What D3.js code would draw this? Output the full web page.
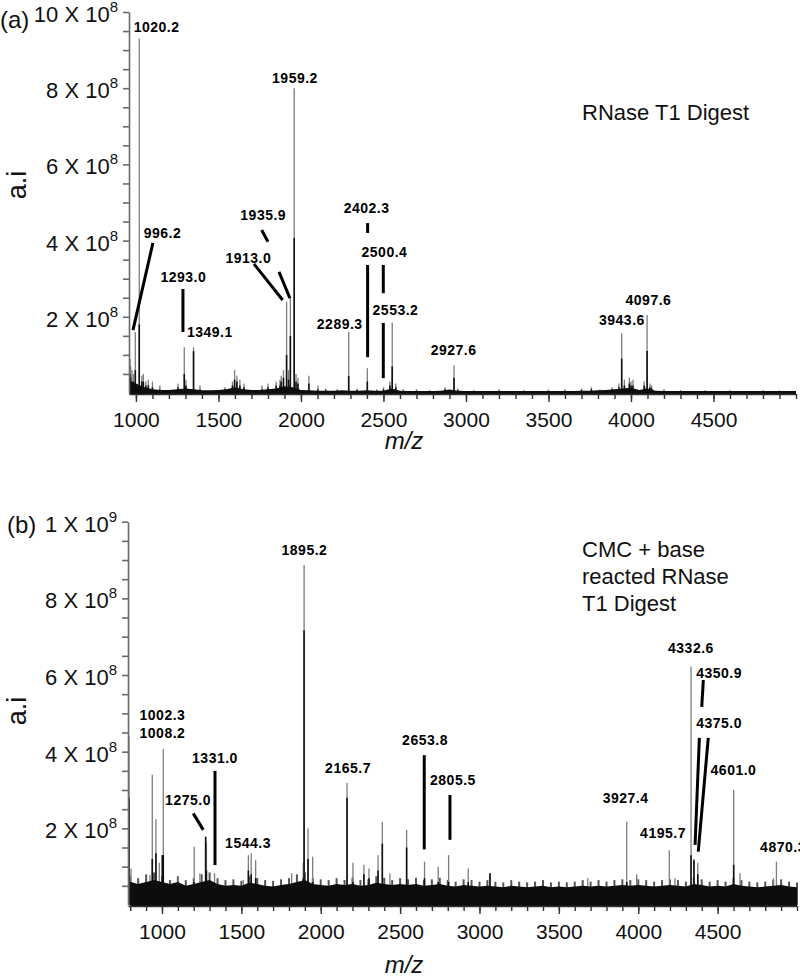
<!DOCTYPE html>
<html><head><meta charset="utf-8">
<script src="https://cdn.jsdelivr.net/npm/d3@7"></script>
<style>body{margin:0;background:#fff}svg{display:block}</style>
</head><body>
<svg id="chart" width="800" height="977"></svg>
<script>
// ---------------- DATA ----------------
const xTickLabels = [1000, 1500, 2000, 2500, 3000, 3500, 4000, 4500];
const yTickValues = [2, 4, 6, 8, 10];                 // units of 1e8
const yTickMantTop = ["2", "4", "6", "8", "10"];
const yTickExpTop = ["8", "8", "8", "8", "8"];
const yTickMantBot = ["2", "4", "6", "8", "1"];
const yTickExpBot = ["8", "8", "8", "8", "9"];

// Panel (a) peaks: m/z, gray (full) height, black (inner) height, units 1e8
const topPeakMz = [964, 968, 976, 985, 996.2, 1020.2, 1036, 1045, 1060, 1075, 1100, 1145, 1255, 1293.0, 1303, 1349.1, 1388, 1540, 1585, 1598, 1612, 1630, 1655, 1764, 1800, 1850, 1873, 1880, 1894, 1913.0, 1925, 1935.9, 1959.2, 1970, 1982, 2048, 2103, 2150, 2220, 2289.3, 2340, 2402.3, 2460, 2500.4, 2539, 2553.2, 2575, 2620, 2700, 2780, 2873, 2927.6, 2950, 3050, 3200, 3350, 3500, 3600, 3700, 3760, 3812, 3885, 3927, 3943.6, 3960, 3990, 4000, 4012, 4080, 4085, 4097.6, 4115, 4125, 4200, 4300, 4450, 4600, 4800, 4900];
const topPeakGray = [0.9, 0.7, 0.6, 0.5, 1.6, 9.3, 0.45, 0.5, 0.3, 0.35, 0.3, 0.2, 0.25, 1.2, 0.35, 1.2, 0.2, 0.15, 0.3, 0.6, 0.45, 0.35, 0.25, 0.2, 0.25, 0.3, 0.35, 0.45, 0.6, 2.4, 0.6, 2.5, 8.0, 0.5, 0.4, 0.45, 0.2, 0.12, 0.1, 1.6, 0.12, 0.65, 0.1, 0.15, 0.3, 1.85, 0.25, 0.1, 0.1, 0.08, 0.15, 0.73, 0.12, 0.08, 0.1, 0.08, 0.09, 0.1, 0.12, 0.15, 0.1, 0.15, 0.25, 1.57, 0.35, 0.4, 0.3, 0.35, 0.3, 0.15, 2.05, 0.25, 0.2, 0.1, 0.08, 0.08, 0.08, 0.08, 0.07];
const topPeakBlack = [0.5, 0.4, 0.3, 0.3, 0.6, 1.8, 0.3, 0.3, 0.2, 0.2, 0.15, 0.1, 0.15, 0.5, 0.2, 1.1, 0.1, 0.1, 0.2, 0.35, 0.3, 0.2, 0.15, 0.1, 0.15, 0.2, 0.2, 0.3, 0.4, 1.0, 0.35, 1.5, 4.07, 0.3, 0.25, 0.25, 0.1, 0.08, 0.06, 0.45, 0.08, 0.3, 0.06, 0.1, 0.2, 0.7, 0.15, 0.06, 0.06, 0.05, 0.1, 0.4, 0.08, 0.05, 0.06, 0.05, 0.06, 0.06, 0.08, 0.1, 0.05, 0.1, 0.15, 0.9, 0.2, 0.25, 0.2, 0.2, 0.2, 0.1, 1.1, 0.15, 0.12, 0.06, 0.05, 0.05, 0.05, 0.05, 0.05];
// Panel (a) baseline noise, read every 50 m/z from 950 to 5000
const topNoiseStart = 950, topNoiseStep = 50;
const topNoise = [0.3, 0.25, 0.15, 0.1, 0.08, 0.08, 0.1, 0.12, 0.1, 0.07, 0.07, 0.08, 0.1, 0.15, 0.1, 0.08, 0.08, 0.1, 0.12, 0.18, 0.15,
  0.08, 0.07, 0.06, 0.06, 0.06, 0.07, 0.06, 0.06, 0.07, 0.06, 0.06, 0.12, 0.06, 0.05, 0.05, 0.05, 0.05, 0.06, 0.09, 0.06,
  0.05, 0.05, 0.05, 0.05, 0.05, 0.05, 0.05, 0.05, 0.05, 0.05, 0.05, 0.05, 0.05, 0.05,
  0.06, 0.06, 0.07, 0.08, 0.1, 0.12, 0.14, 0.08, 0.12, 0.06,
  0.05, 0.05, 0.05, 0.05, 0.05, 0.05, 0.05, 0.05, 0.05, 0.05, 0.05, 0.05, 0.05, 0.05, 0.05, 0.05, 0.05];
const topLabelText = ["1020.2", "996.2", "1293.0", "1349.1", "1913.0", "1935.9", "1959.2", "2289.3", "2402.3", "2500.4", "2553.2", "2927.6", "3943.6", "4097.6"];
const topLabelMz = [1125, 1161, 1287, 1448, 1681, 1771.5, 1964, 2235, 2398, 2506, 2573, 2925, 3945, 4106];
const topLabelInt = [9.47, 4.07, 2.91, 1.47, 3.41, 4.54, 8.14, 1.68, 4.72, 3.57, 2.05, 1.0, 1.78, 2.31];
const topLeaders = [[1103, 3.94, 982, 1.65], [1285, 2.73, 1285, 1.60], [1715, 3.39, 1889, 2.44], [1762, 4.28, 1800, 3.97], [1867, 3.18, 1933, 2.49], [2404, 4.46, 2404, 4.2], [2404, 3.36, 2404, 0.94], [2499, 3.36, 2499, 2.62], [2499, 1.84, 2499, 0.39]];

// Panel (b) peaks
const botPeakMz = [792, 805, 924, 939, 962, 983, 1002.3, 1008.2, 1103, 1203, 1239, 1275.0, 1280, 1331.0, 1512, 1544.3, 1562, 1590, 1817, 1890, 1895.2, 1920, 1949, 2165.7, 2203, 2272, 2304, 2361, 2388, 2436, 2541, 2653.8, 2740, 2805.5, 2929, 3066, 3682, 3927.4, 3990, 4195.7, 4231, 4332.6, 4350.9, 4375.0, 4601.0, 4641, 4851, 4870.3];
const botPeakGray = [4.4, 0.95, 0.78, 3.4, 2.24, 1.1, 1.3, 4.07, 0.74, 1.52, 0.83, 1.78, 1.62, 0.83, 0.65, 1.3, 1.35, 1.17, 0.83, 1.1, 8.87, 2.0, 1.26, 3.18, 1.1, 1.05, 0.95, 1.3, 2.17, 0.83, 1.96, 1.13, 1.0, 1.3, 0.96, 0.83, 0.7, 2.17, 0.8, 1.43, 0.7, 6.22, 1.2, 1.1, 3.0, 0.83, 0.7, 1.13];
const botPeakBlack = [2.8, 0.6, 0.5, 1.2, 1.35, 0.6, 1.3, 1.3, 0.4, 0.6, 0.5, 1.78, 0.9, 0.5, 0.4, 0.9, 0.8, 0.7, 0.5, 0.7, 7.17, 1.2, 0.6, 2.8, 0.6, 0.8, 0.7, 0.9, 1.6, 0.5, 1.5, 0.7, 0.6, 0.6, 0.6, 0.83, 0.4, 0.6, 0.5, 0.5, 0.4, 1.3, 1.17, 0.8, 1.05, 0.5, 0.4, 0.5];
// Panel (b) noise band (black) and fuzz spikes (gray), read every 50 m/z from 800 to 5000
const botNoiseStart = 800, botNoiseStep = 50;
const botBand = [0.6, 0.55, 0.6, 0.65, 0.6,
  0.55, 0.6, 0.5, 0.55, 0.6, 0.65, 0.55, 0.5, 0.52, 0.5,
  0.58, 0.55, 0.5, 0.48, 0.52, 0.55, 0.6, 0.65, 0.55, 0.52,
  0.5, 0.55, 0.52, 0.55, 0.5, 0.52, 0.58, 0.55, 0.52, 0.55,
  0.52, 0.55, 0.5, 0.52, 0.55, 0.5, 0.48, 0.52, 0.5, 0.48,
  0.5, 0.48, 0.46, 0.5, 0.48, 0.46, 0.48, 0.5, 0.46, 0.48,
  0.46, 0.48, 0.5, 0.48, 0.5, 0.48, 0.5, 0.52, 0.5, 0.52,
  0.5, 0.48, 0.5, 0.52, 0.5, 0.48, 0.55, 0.52, 0.48, 0.5,
  0.48, 0.55, 0.5, 0.48, 0.46, 0.48, 0.5, 0.52, 0.48, 0.46];
const botFuzz = [0.75, 0.7, 0.8, 0.85, 0.75,
  0.65, 0.75, 0.65, 0.7, 0.8, 0.85, 0.7, 0.65, 0.67, 0.63,
  0.75, 0.7, 0.65, 0.63, 0.67, 0.7, 0.8, 0.85, 0.7, 0.67,
  0.65, 0.7, 0.65, 0.71, 0.65, 0.67, 0.75, 0.71, 0.65, 0.7,
  0.67, 0.71, 0.65, 0.67, 0.71, 0.65, 0.61, 0.67, 0.65, 0.61,
  0.65, 0.61, 0.59, 0.65, 0.61, 0.59, 0.61, 0.65, 0.59, 0.61,
  0.59, 0.61, 0.65, 0.61, 0.65, 0.61, 0.65, 0.67, 0.65, 0.67,
  0.65, 0.61, 0.65, 0.67, 0.65, 0.61, 0.71, 0.67, 0.61, 0.65,
  0.61, 0.71, 0.65, 0.61, 0.59, 0.61, 0.65, 0.67, 0.61, 0.59];
const botLabelText = ["1895.2", "1002.3", "1008.2", "1275.0", "1331.0", "1544.3", "2165.7", "2653.8", "2805.5", "3927.4", "4195.7", "4332.6", "4350.9", "4375.0", "4601.0", "4870.3"];
const botLabelMz = [1897.6, 1003, 1003, 1164, 1334, 1542, 2172, 2657, 2833, 3920, 4156, 4332, 4509, 4509, 4600, 4912];
const botLabelInt = [9.13, 4.83, 4.36, 2.61, 3.70, 1.49, 3.44, 4.17, 3.13, 2.66, 1.75, 6.57, 5.92, 4.62, 3.39, 1.38];
const botLeaders = [[1197, 2.39, 1260, 1.96], [1334, 3.50, 1334, 1.04], [2652, 3.91, 2652, 1.45], [2814, 2.87, 2814, 1.70], [4410, 5.87, 4400, 5.17], [4385, 4.36, 4358, 1.57], [4441, 4.36, 4378, 1.39]];

// ---------------- DRAW ----------------
const FONT = '"Liberation Sans", Arial, Helvetica, sans-serif';
const svg = d3.select('#chart').style('font-family', FONT);

function panel(cfg) {
  const x = d3.scaleLinear().domain(cfg.xDomain).range(cfg.xRange);
  const y = d3.scaleLinear().domain([0, 10]).range(cfg.yRange);
  const g = svg.append('g');
  const clipId = 'clip' + cfg.id;
  svg.append('clipPath').attr('id', clipId).append('rect')
    .attr('x', cfg.xRange[0]).attr('y', 0)
    .attr('width', cfg.xRange[1] - cfg.xRange[0] + 2).attr('height', cfg.yRange[0] + 1);
  const plot = g.append('g').attr('clip-path', `url(#${clipId})`);
  const nx = (i) => x(cfg.noiseStart + i * cfg.noiseStep);

  if (cfg.fuzz) {
    plot.selectAll('.fz').data(cfg.fuzz).join('line')
      .attr('x1', (d, i) => nx(i)).attr('x2', (d, i) => nx(i))
      .attr('y1', y(0)).attr('y2', d => y(d))
      .attr('stroke', '#555').attr('stroke-width', 2);
  }
  // gray peaks
  plot.selectAll('.pg').data(cfg.mz).join('line')
    .attr('x1', d => x(d)).attr('x2', d => x(d))
    .attr('y1', y(0)).attr('y2', (d, i) => y(cfg.gray[i]))
    .attr('stroke', '#7d7d7d').attr('stroke-width', 1.3);
  // black inner peaks
  plot.selectAll('.pb').data(cfg.mz).join('line')
    .attr('x1', d => x(d)).attr('x2', d => x(d))
    .attr('y1', y(0)).attr('y2', (d, i) => y(cfg.black[i]))
    .attr('stroke', '#111').attr('stroke-width', 1.6);
  // noise
  plot.append('path').datum(cfg.noise)
    .attr('d', d3.area().x((d, i) => nx(i)).y0(y(0) + 1).y1(d => y(d)))
    .attr('fill', '#0d0d0d');

  // y axis
  const yMinor = d3.range(1, 21).map(v => v / 2);
  const ya = g.append('g').attr('transform', `translate(${cfg.xRange[0]},0)`)
    .call(d3.axisLeft(y).tickValues(yMinor).tickSize(6).tickSizeOuter(0).tickFormat(''));
  ya.selectAll('path,line').attr('stroke', '#6a6a6a').attr('stroke-width', 1.6);

  // y tick labels
  yTickValues.forEach((v, i) => {
    const t = g.append('text').attr('x', cfg.xRange[0] - 11).attr('y', y(v) + 10)
      .attr('text-anchor', 'end').attr('font-size', 22).attr('fill', '#111');
    t.append('tspan').text(cfg.mant[i] + ' X 10');
    t.append('tspan').attr('dy', -10).attr('font-size', 15).text(cfg.exp[i]);
  });

  // x axis
  const xMinor = d3.range(Math.ceil(cfg.xDomain[0] / 100) * 100, 5001, 100);
  const xa = g.append('g').attr('transform', `translate(0,${y(0) + 1})`)
    .call(d3.axisBottom(x).tickValues(xMinor).tickSize(5).tickSizeOuter(0).tickFormat(''));
  xa.selectAll('path,line').attr('stroke', '#333').attr('stroke-width', 1.4);
  const xb = g.append('g').attr('transform', `translate(0,${y(0) + 1})`)
    .call(d3.axisBottom(x).tickValues(xTickLabels).tickSize(8).tickSizeOuter(0).tickPadding(8).tickFormat(d3.format('d')));
  xb.select('.domain').remove();
  xb.selectAll('line').attr('stroke', '#333').attr('stroke-width', 1.4);
  xb.selectAll('text').attr('font-size', 21).attr('fill', '#111')
    .attr('font-family', FONT).attr('dy', null).attr('y', cfg.xLabelBase - y(0) - 1);

  // leaders
  g.selectAll('.ld').data(cfg.leaders).join('line')
    .attr('x1', d => x(d[0])).attr('y1', d => y(d[1]))
    .attr('x2', d => x(d[2])).attr('y2', d => y(d[3]))
    .attr('stroke', '#000').attr('stroke-width', 3);
  // labels
  g.selectAll('.lb').data(cfg.labels).join('text')
    .attr('x', (d, i) => x(cfg.labelMz[i])).attr('y', (d, i) => y(cfg.labelInt[i]))
    .attr('text-anchor', 'middle').attr('font-size', 14).attr('font-weight', 'bold')
    .attr('letter-spacing', 0.5).attr('fill', '#000').text(d => d);

  // axis titles
  g.append('text').attr('transform', `translate(26,${cfg.aiY}) rotate(-90)`)
    .attr('text-anchor', 'middle').attr('font-size', 27).attr('fill', '#111').text('a.i');
  g.append('text').attr('x', cfg.mzX).attr('y', cfg.mzY).attr('text-anchor', 'middle')
    .attr('font-size', 24).attr('font-style', 'italic').attr('fill', '#111').text('m/z');
  g.append('text').attr('x', cfg.tagX).attr('y', cfg.tagY).attr('font-size', 24).attr('fill', '#111').text(cfg.tag);
  cfg.title.forEach((line, i) => {
    g.append('text').attr('x', 582).attr('y', cfg.titleY + i * 27).attr('font-size', 22)
      .attr('fill', '#111').text(line);
  });
}

panel({
  id: 'a', xDomain: [958, 5000], xRange: [129, 796], yRange: [393, 12],
  mz: topPeakMz, gray: topPeakGray, black: topPeakBlack,
  noise: topNoise, noiseStart: topNoiseStart, noiseStep: topNoiseStep,
  mant: yTickMantTop, exp: yTickExpTop,
  labels: topLabelText, labelMz: topLabelMz, labelInt: topLabelInt, leaders: topLeaders,
  xLabelBase: 427, aiY: 185, mzX: 404, mzY: 449, tag: '(a)', tagX: 0, tagY: 28,
  title: ['RNase T1 Digest'], titleY: 120
});
panel({
  id: 'b', xDomain: [786, 5000], xRange: [128, 797], yRange: [905, 521.7],
  mz: botPeakMz, gray: botPeakGray, black: botPeakBlack,
  noise: botBand, fuzz: botFuzz, noiseStart: botNoiseStart, noiseStep: botNoiseStep,
  mant: yTickMantBot, exp: yTickExpBot,
  labels: botLabelText, labelMz: botLabelMz, labelInt: botLabelInt, leaders: botLeaders,
  xLabelBase: 939, aiY: 711, mzX: 404, mzY: 973, tag: '(b)', tagX: 7, tagY: 533,
  title: ['CMC + base', 'reacted RNase', 'T1 Digest'], titleY: 557
});
</script>
</body></html>
